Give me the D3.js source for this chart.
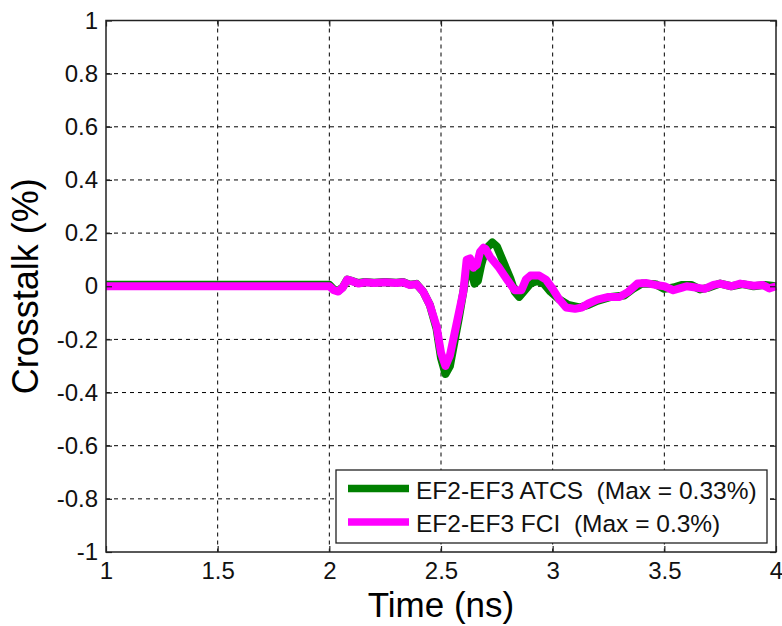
<!DOCTYPE html>
<html>
<head>
<meta charset="utf-8">
<script src="https://cdn.jsdelivr.net/npm/d3@7"></script>
<style>
  html, body { margin: 0; padding: 0; background: #fff; }
  svg { display: block; font-family: "Liberation Sans", Arial, sans-serif; }
</style>
</head>
<body>
<svg id="chart" width="782" height="626"></svg>
<script>
// Crosstalk waveforms (time in ns, crosstalk in %)
const atcsTime = [1.0, 2.0, 2.02, 2.04, 2.06, 2.08, 2.10, 2.13, 2.16, 2.2, 2.25, 2.3, 2.33, 2.36, 2.39,
  2.42, 2.45, 2.48, 2.50, 2.52, 2.54, 2.56, 2.58, 2.60, 2.62, 2.635, 2.65, 2.665, 2.68, 2.70, 2.73,
  2.75, 2.78, 2.81, 2.83, 2.85, 2.87, 2.90, 2.93, 2.96, 2.99, 3.03, 3.07, 3.12, 3.16, 3.2, 3.26, 3.32,
  3.36, 3.4, 3.46, 3.5, 3.54, 3.58, 3.62, 3.66, 3.7, 3.75, 3.8, 3.85, 3.9, 3.95, 4.0];
const atcsValue = [0.006, 0.006, -0.012, -0.018, -0.004, 0.025, 0.02, 0.012, 0.016, 0.013, 0.016, 0.013, 0.016, 0.006, 0.009,
  -0.02, -0.07, -0.16, -0.27, -0.33, -0.30, -0.21, -0.12, -0.02, 0.08, 0.06, 0.01, 0.02, 0.08, 0.14, 0.165,
  0.15, 0.09, 0.03, -0.02, -0.04, -0.02, 0.01, 0.02, 0.01, -0.02, -0.05, -0.07, -0.08, -0.07, -0.055, -0.04, -0.035,
  -0.01, 0.01, 0.008, -0.01, -0.005, 0.005, 0.005, -0.012, -0.005, 0.01, 0.0, 0.008, 0.0, 0.005, 0.0];

const fciTime = [1.0, 2.0, 2.02, 2.04, 2.06, 2.08, 2.10, 2.13, 2.16, 2.2, 2.25, 2.3, 2.33, 2.36, 2.39,
  2.42, 2.45, 2.48, 2.50, 2.52, 2.54, 2.56, 2.58, 2.60, 2.615, 2.63, 2.645, 2.66, 2.675, 2.69, 2.70,
  2.72, 2.76, 2.80, 2.83, 2.86, 2.88, 2.9, 2.94, 2.97, 3.0, 3.03, 3.06, 3.10, 3.13, 3.16, 3.2, 3.25,
  3.3, 3.34, 3.38, 3.42, 3.46, 3.5, 3.54, 3.58, 3.6, 3.64, 3.68, 3.72, 3.75, 3.8, 3.84, 3.9, 3.94, 3.97, 4.0];
const fciValue = [0.0, 0.0, -0.015, -0.02, -0.005, 0.025, 0.02, 0.01, 0.015, 0.012, 0.015, 0.012, 0.015, 0.005, 0.008,
  -0.02, -0.07, -0.15, -0.25, -0.30, -0.26, -0.18, -0.10, -0.02, 0.10, 0.105, 0.07, 0.08, 0.13, 0.145, 0.14,
  0.11, 0.07, 0.02, -0.015, -0.015, 0.025, 0.04, 0.04, 0.025, -0.01, -0.05, -0.08, -0.085, -0.08, -0.065, -0.05, -0.04,
  -0.04, -0.02, 0.01, 0.012, 0.005, 0.0, -0.015, -0.005, 0.0, -0.005, -0.01, 0.005, 0.01, 0.0, 0.01, 0.002, 0.005, -0.008, 0.0];

const xTicks = [1, 1.5, 2, 2.5, 3, 3.5, 4];
const yTicks = [-1, -0.8, -0.6, -0.4, -0.2, 0, 0.2, 0.4, 0.6, 0.8, 1];
const seriesNames = ["EF2-EF3 ATCS  (Max = 0.33%)", "EF2-EF3 FCI  (Max = 0.3%)"];
const seriesColors = ["#008000", "#ff00ff"];

const svg = d3.select("#chart");
const plot = { left: 106, right: 776, top: 20.5, bottom: 552 };

const x = d3.scaleLinear().domain([1, 4]).range([plot.left, plot.right]);
const y = d3.scaleLinear().domain([-1, 1]).range([plot.bottom, plot.top]);

// tick labels use a plain hyphen for negatives
const fmt = d => String(d);

// dashed grid
const grid = svg.append("g");
grid.selectAll("line.gx").data(xTicks.slice(1, -1)).join("line")
  .attr("x1", d => x(d)).attr("x2", d => x(d))
  .attr("y1", plot.top).attr("y2", plot.bottom)
  .attr("stroke", "#000").attr("stroke-width", 1).attr("stroke-dasharray", "4,4");
grid.selectAll("line.gy").data(yTicks.slice(1, -1)).join("line")
  .attr("x1", plot.left).attr("x2", plot.right)
  .attr("y1", d => y(d)).attr("y2", d => y(d))
  .attr("stroke", "#000").attr("stroke-width", 1).attr("stroke-dasharray", "4,4");

// waveforms
const line = d3.line().x(d => x(d[0])).y(d => y(d[1]));
const atcs = atcsTime.map((t, i) => [t, atcsValue[i]]);
const fci = fciTime.map((t, i) => [t, fciValue[i]]);
svg.append("path").datum(atcs).attr("d", line)
  .attr("fill", "none").attr("stroke", seriesColors[0]).attr("stroke-width", 8)
  .attr("stroke-linejoin", "round");
svg.append("path").datum(fci).attr("d", line)
  .attr("fill", "none").attr("stroke", seriesColors[1]).attr("stroke-width", 8)
  .attr("stroke-linejoin", "round");

// axes with inward ticks on all four sides
const tickLen = 6;
const axBottom = d3.axisBottom(x).tickValues(xTicks).tickSize(-tickLen).tickPadding(10).tickFormat(fmt);
const axTop = d3.axisTop(x).tickValues(xTicks).tickSize(-tickLen).tickFormat("");
const axLeft = d3.axisLeft(y).tickValues(yTicks).tickSize(-tickLen).tickPadding(8).tickFormat(fmt);
const axRight = d3.axisRight(y).tickValues(yTicks).tickSize(-tickLen).tickFormat("");

function style(g) {
  g.select(".domain").remove();
  g.selectAll(".tick line").attr("stroke", "#222").attr("stroke-width", 1.2);
  g.selectAll(".tick text").attr("fill", "#111").attr("font-size", 24)
    .attr("font-family", "Liberation Sans, Arial, sans-serif");
}
svg.append("g").attr("transform", `translate(0,${plot.bottom})`).call(axBottom).call(style);
svg.append("g").attr("transform", `translate(0,${plot.top})`).call(axTop).call(style);
svg.append("g").attr("transform", `translate(${plot.left},0)`).call(axLeft).call(style);
svg.append("g").attr("transform", `translate(${plot.right},0)`).call(axRight).call(style);

svg.append("rect")
  .attr("x", plot.left).attr("y", plot.top)
  .attr("width", plot.right - plot.left).attr("height", plot.bottom - plot.top)
  .attr("fill", "none").attr("stroke", "#222").attr("stroke-width", 1.5);

// axis titles
svg.append("text").attr("x", x(2.5)).attr("y", 617)
  .attr("text-anchor", "middle").attr("font-size", 35).attr("fill", "#000")
  .text("Time (ns)");
svg.append("text").attr("transform", `translate(38,${y(0)}) rotate(-90)`)
  .attr("text-anchor", "middle").attr("font-size", 36).attr("fill", "#000")
  .text("Crosstalk (%)");

// legend
const lg = svg.append("g");
lg.append("rect").attr("x", 336).attr("y", 470).attr("width", 431).attr("height", 73)
  .attr("fill", "#fff").attr("stroke", "#222").attr("stroke-width", 1.3);
const rows = [488.5, 522];
seriesNames.forEach((name, i) => {
  lg.append("line").attr("x1", 348).attr("x2", 409).attr("y1", rows[i]).attr("y2", rows[i])
    .attr("stroke", seriesColors[i]).attr("stroke-width", 7.5);
  lg.append("text").attr("x", 416).attr("y", rows[i] + 10)
    .attr("font-size", 24.5).attr("fill", "#111").attr("xml:space", "preserve")
    .style("white-space", "pre").text(name);
});
</script>
</body>
</html>
